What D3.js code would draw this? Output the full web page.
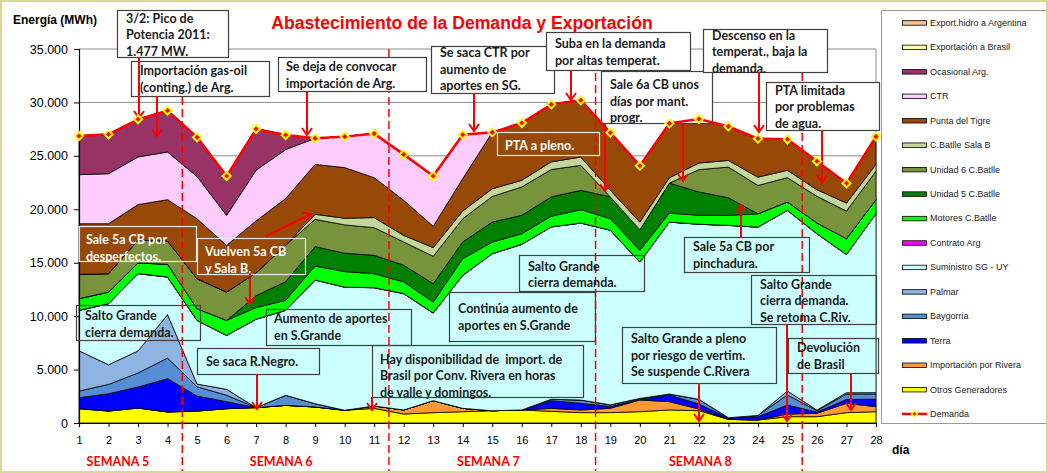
<!DOCTYPE html>
<html>
<head>
<meta charset="utf-8">
<script src="https://cdn.jsdelivr.net/npm/d3@7"></script>
<style>
  body { margin: 0; background: #fff; }
  svg { display: block; }
</style>
</head>
<body>
<script>
// ---- data (MWh per day) ----
const days = [1, 2, 3, 4, 5, 6, 7, 8, 9, 10, 11, 12, 13, 14, 15, 16, 17, 18, 19, 20, 21, 22, 23, 24, 25, 26, 27, 28];

const otros      = [1340, 1120, 1400, 1030, 1120, 1340, 1440, 1650, 1500, 1190, 1370, 840, 970, 1060, 1150, 1220, 1090, 970, 970, 1060, 1220, 1150, 340, 280, 590, 590, 970, 1060];
const rivera     = [0, 0, 0, 0, 0, 0, 0, 0, 0, 0, 220, 380, 1120, 310, 0, 0, 280, 250, 410, 1090, 780, 160, 0, 0, 250, 310, 870, 470];
const terra      = [1030, 1620, 1970, 3120, 1400, 660, 0, 0, 0, 0, 0, 0, 0, 0, 0, 0, 720, 620, 160, 60, 620, 470, 120, 310, 840, 120, 370, 690];
const baygorria  = [620, 870, 1310, 1930, 870, 600, 0, 940, 310, 0, 0, 0, 0, 0, 0, 0, 130, 310, 160, 90, 90, 440, 30, 120, 940, 130, 500, 500];
const palmar     = [3760, 1840, 2060, 4060, 250, 550, 0, 0, 0, 0, 0, 0, 0, 0, 0, 0, 0, 0, 0, 0, 0, 0, 0, 0, 370, 60, 120, 120];
const suministro = [3790, 5710, 7240, 3520, 5960, 5050, 8270, 7950, 11570, 11520, 11070, 10890, 8200, 12450, 14690, 15500, 16130, 16560, 16340, 12760, 16090, 16380, 18000, 17620, 16910, 16500, 12940, 16750];
const contrato   = [0, 0, 0, 0, 0, 0, 0, 0, 0, 0, 0, 0, 0, 0, 0, 0, 0, 0, 0, 0, 0, 0, 0, 0, 0, 0, 0, 0];
const motores    = [1090, 1090, 1000, 1190, 1090, 1400, 1100, 940, 1310, 1460, 1310, 1090, 1030, 1560, 1090, 1000, 1000, 1250, 1090, 1090, 840, 840, 940, 1250, 780, 1000, 1470, 1310];
const unidad5    = [0, 0, 0, 0, 0, 0, 1100, 1750, 1810, 1720, 1720, 1560, 1720, 1560, 1870, 1720, 1810, 1810, 2030, 1930, 2810, 2180, 1650, 0, 0, 0, 0, 0];
const unidad6    = [2280, 1720, 2120, 2180, 2810, 2650, 2140, 3400, 2560, 2650, 2590, 2180, 2560, 2180, 2400, 2650, 2560, 2340, 0, 0, 0, 2090, 2870, 2650, 2280, 2500, 2590, 2680];
const salaB      = [0, 0, 0, 0, 0, 0, 0, 0, 470, 620, 940, 620, 810, 720, 720, 620, 720, 780, 620, 720, 500, 620, 620, 780, 690, 620, 750, 620];
const pta        = [4740, 4680, 3340, 3870, 5610, 4370, 4870, 4370, 4670, 4740, 3740, 3280, 2000, 3030, 5270, 5360, 5400, 5310, 5400, 5270, 5080, 4120, 3180, 3590, 2910, 2660, 1850, 2600];
const ctr        = [4590, 4680, 4460, 4460, 3960, 2810, 4740, 4590, 2440, 2910, 4120, 4310, 4710, 4120, 0, 0, 0, 0, 0, 0, 0, 0, 0, 0, 0, 0, 0, 0];
const ocasional  = [3620, 3690, 3530, 3870, 3650, 3680, 3870, 1370, 0, 0, 0, 0, 0, 0, 0, 0, 0, 0, 0, 0, 0, 0, 0, 0, 0, 0, 0, 0];
const expBrasil  = [0, 0, 0, 0, 0, 0, 0, 0, 0, 0, 0, 0, 0, 0, 0, 0, 0, 0, 0, 0, 0, 0, 0, 0, 0, 0, 0, 0];
const expArg     = [0, 0, 0, 0, 0, 0, 0, 0, 0, 0, 0, 0, 0, 0, 0, 0, 0, 0, 0, 0, 0, 0, 0, 0, 0, 0, 0, 0];
const demanda    = [26860, 27020, 28420, 29230, 26730, 23110, 27510, 26950, 26640, 26800, 27080, 25140, 23110, 26980, 27200, 28070, 29820, 30200, 27170, 24080, 28040, 28450, 27760, 26610, 26550, 24490, 22430, 26800];

const yTicks = [0, 5000, 10000, 15000, 20000, 25000, 30000, 35000];
const weekLabels = ['SEMANA 5', 'SEMANA 6', 'SEMANA 7', 'SEMANA 8'];
const weekCenters = [2.32, 7.85, 14.87, 22.05];
const weekBreaks = [4.5, 11.5, 18.5, 25.5];

// stacking order, bottom first
const series = [
    { key: 'otros',      label: 'Otros Generadores',        color: '#FFFF00', values: otros },
    { key: 'rivera',     label: 'Importación por Rivera',   color: '#FF9933', values: rivera },
    { key: 'terra',      label: 'Terra',                    color: '#0000FF', values: terra },
    { key: 'baygorria',  label: 'Baygorria',                color: '#558ED5', values: baygorria },
    { key: 'palmar',     label: 'Palmar',                   color: '#8DB4E2', values: palmar },
    { key: 'suministro', label: 'Suministro SG - UY',       color: '#CCFFFF', values: suministro },
    { key: 'contrato',   label: 'Contrato Arg',             color: '#FF00FF', values: contrato },
    { key: 'motores',    label: 'Motores C.Batlle',         color: '#00FF00', values: motores },
    { key: 'unidad5',    label: 'Unidad 5 C.Batlle',        color: '#008000', values: unidad5 },
    { key: 'unidad6',    label: 'Unidad 6 C.Batlle',        color: '#77933C', values: unidad6 },
    { key: 'salaB',      label: 'C.Batlle Sala B',          color: '#C4D79B', values: salaB },
    { key: 'pta',        label: 'Punta del Tigre',          color: '#984807', values: pta },
    { key: 'ctr',        label: 'CTR',                      color: '#FFCCFF', values: ctr },
    { key: 'ocasional',  label: 'Ocasional Arg.',           color: '#993366', values: ocasional },
    { key: 'expBrasil',  label: 'Exportación a Brasil',     color: '#FFFF99', values: expBrasil },
    { key: 'expArg',     label: 'Export.hidro a Argentina', color: '#FABF8F', values: expArg }
];

// ---- annotation layout (pixels) ----
const notes = [
    { box: [117, 10, 111, 47], tx: 126, ty: 22.5, fill: '#fff', lines: ['3/2: Pico de', 'Potencia 2011:', '1.477 MW.'] },
    { box: [131, 61, 138, 35], tx: 140, ty: 75, fill: '#fff', lines: ['Importación gas-oil', '(conting.) de Arg.'] },
    { box: [278, 57, 148, 34], tx: 286, ty: 71, fill: '#fff', lines: ['Se deja de convocar', 'importación de Arg.'] },
    { box: [431, 46, 123, 47], tx: 440, ty: 57, fill: '#fff', lines: ['Se saca CTR por', 'aumento de', 'aportes en SG.'] },
    { box: [546, 32, 144, 38], tx: 555, ty: 48, fill: '#fff', lines: ['Suba en la demanda', 'por altas temperat.'] },
    { box: [497, 132, 102, 23], tx: 505, ty: 149.5, fill: 'none', stroke: '#e8e8e8', color: '#fff', lines: ['PTA a pleno.'] },
    { box: [601, 71, 111, 52], tx: 610, ty: 89, fill: '#fff', lines: ['Sale 6a CB unos', 'días por mant.', 'progr.'] },
    { box: [703, 29, 124, 43], tx: 712, ty: 39.5, fill: '#fff', lines: ['Descenso en la', 'temperat., baja la', 'demanda.'] },
    { box: [766, 82, 113, 48], tx: 775, ty: 94.5, fill: '#fff', lines: ['PTA limitada', 'por problemas', 'de agua.'] },
    { box: [79, 226, 117, 35], tx: 86, ty: 244, fill: 'none', stroke: '#e8e8e8', color: '#fff', lines: ['Sale 5a CB por', 'desperfectos.'] },
    { box: [197, 238, 108, 36], tx: 205, ty: 256, fill: 'none', stroke: '#e8e8e8', color: '#fff', lines: ['Vuelven 5a CB', 'y Sala B.'] },
    { box: [76, 305, 124, 35], tx: 85, ty: 320, fill: 'none', lines: ['Salto Grande', 'cierra demanda.'] },
    { box: [266, 309, 145, 36], tx: 274, ty: 323, fill: 'none', lines: ['Aumento de aportes', 'en S.Grande'] },
    { box: [197, 348, 122, 26], tx: 206, ty: 366, fill: 'none', lines: ['Se saca R.Negro.'] },
    { box: [372, 345, 211, 52], tx: 380, ty: 363.5, fill: 'none', lines: ['Hay disponibilidad de  import. de', 'Brasil por Conv. Rivera en horas', 'de valle y domingos.'] },
    { box: [449, 292, 146, 49], tx: 458, ty: 313, fill: 'none', lines: ['Continúa aumento de', 'aportes en S.Grande'] },
    { box: [519, 255, 125, 36], tx: 528, ty: 270.5, fill: 'none', lines: ['Salto Grande', 'cierra demanda.'] },
    { box: [684, 237, 125, 35], tx: 693, ty: 251, fill: 'none', lines: ['Sale 5a CB por', 'pinchadura.'] },
    { box: [751, 275, 125, 49], tx: 760, ty: 288.5, fill: 'none', lines: ['Salto Grande', 'cierra demanda.', 'Se retoma C.Riv.'] },
    { box: [622, 327, 154, 56], tx: 631, ty: 343, fill: 'none', lines: ['Salto Grande a pleno', 'por riesgo de vertim.', 'Se suspende C.Rivera'] },
    { box: [788, 338, 90, 35], tx: 797, ty: 352, fill: 'none', lines: ['Devolución', 'de Brasil'] }
];

const arrows = [
    [139, 57, 139, 118], [157, 96, 157, 136], [307, 91, 307, 135], [474, 93, 474, 131],
    [571, 70, 571, 100], [605, 123, 605, 191], [683, 123, 683, 181], [759, 72, 759, 132],
    [822, 130, 822, 182], [250, 274, 250, 304], [265, 237, 311, 214], [257, 374, 257, 409],
    [372, 397, 372, 410], [741, 237, 741, 205], [787, 324, 787, 421], [699, 383, 699, 421],
    [851, 373, 851, 410]
];

// ---- chart ----
const width = 1048, height = 473;
const plot = { left: 79, right: 876, top: 49, bottom: 423 };

const svg = d3.select('body').append('svg')
    .attr('width', width)
    .attr('height', height);

svg.append('rect')
    .attr('width', width)
    .attr('height', height)
    .attr('fill', '#fff');

const defs = svg.append('defs');
defs.append('marker')
    .attr('id', 'arrow')
    .attr('viewBox', '-9 -7 11 14')
    .attr('markerUnits', 'userSpaceOnUse')
    .attr('markerWidth', 11)
    .attr('markerHeight', 14)
    .attr('refX', 0)
    .attr('refY', 0)
    .attr('orient', 'auto')
    .append('path')
    .attr('d', 'M-7,-5L0,0L-7,5')
    .attr('fill', 'none')
    .attr('stroke', '#FF0000')
    .attr('stroke-width', 2);

const x = d3.scaleLinear().domain([1, 28]).range([plot.left, plot.right]);
const y = d3.scaleLinear().domain([0, 35000]).range([plot.bottom, plot.top]);

const fmt = d3.formatLocale({ decimal: ',', thousands: '.', grouping: [3], currency: ['', ''] }).format(',');

// grid lines
svg.append('g')
    .selectAll('line')
    .data(yTicks.filter(d => d > 0))
    .join('line')
    .attr('x1', plot.left)
    .attr('x2', plot.right)
    .attr('y1', d => y(d))
    .attr('y2', d => y(d))
    .attr('stroke', '#8c8c8c')
    .attr('stroke-width', 1);

svg.append('line')
    .attr('x1', plot.right).attr('x2', plot.right)
    .attr('y1', plot.top).attr('y2', plot.bottom)
    .attr('stroke', '#8c8c8c');

// stacked areas
const rows = days.map((d, i) => {
    const r = { day: d };
    series.forEach(s => { r[s.key] = s.values[i]; });
    return r;
});
const stacked = d3.stack().keys(series.map(s => s.key))(rows);

const area = d3.area()
    .x(d => x(d.data.day))
    .y0(d => y(d[0]))
    .y1(d => y(d[1]));

svg.append('g')
    .selectAll('path')
    .data(stacked)
    .join('path')
    .attr('d', area)
    .attr('fill', (d, i) => series[i].color)
    .attr('stroke', '#000')
    .attr('stroke-width', 0.8)
    .attr('stroke-linejoin', 'round');

// axes
const yAxis = d3.axisLeft(y).tickValues(yTicks).tickSize(5).tickFormat(d => fmt(d));
svg.append('g')
    .attr('transform', `translate(${plot.left},0)`)
    .call(yAxis)
    .call(g => g.select('.domain').attr('stroke', '#000').attr('stroke-width', 1.2))
    .call(g => g.selectAll('.tick line').attr('stroke', '#000'))
    .call(g => g.selectAll('.tick text')
        .attr('x', -11)
        .style('font-family', '"Liberation Sans", Arial, sans-serif')
        .style('font-size', '12.5px')
        .attr('fill', '#000'));

const xAxis = d3.axisBottom(x).tickValues(days).tickSize(4).tickFormat(d => d);
svg.append('g')
    .attr('transform', `translate(0,${plot.bottom})`)
    .call(xAxis)
    .call(g => g.select('.domain').attr('stroke', '#000').attr('stroke-width', 1.2))
    .call(g => g.selectAll('.tick line').attr('stroke', '#000'))
    .call(g => g.selectAll('.tick text')
        .attr('y', 13)
        .style('font-family', '"Liberation Sans", Arial, sans-serif')
        .style('font-size', '11px')
        .attr('fill', '#000'));

// week separators
svg.append('g')
    .selectAll('line')
    .data(weekBreaks)
    .join('line')
    .attr('x1', d => x(d)).attr('x2', d => x(d))
    .attr('y1', plot.top).attr('y2', height)
    .attr('stroke', '#FF0000')
    .attr('stroke-width', 1.5)
    .attr('stroke-dasharray', '8,4');

svg.append('g')
    .selectAll('text')
    .data(weekLabels)
    .join('text')
    .attr('x', (d, i) => x(weekCenters[i]))
    .attr('y', 466)
    .attr('text-anchor', 'middle')
    .style('font-family', 'Lato, sans-serif')
    .style('font-weight', 'bold')
    .style('font-size', '12.5px')
    .attr('fill', '#FF0000')
    .text(d => d);

svg.append('text')
    .attr('x', 892).attr('y', 454)
    .style('font-family', '"Liberation Sans", Arial, sans-serif')
    .style('font-weight', 'bold')
    .style('font-size', '12px')
    .text('día');

// notes
const noteG = svg.append('g');
notes.forEach(n => {
    const [bx, by, bw, bh] = n.box;
    noteG.append('rect')
        .attr('x', bx + 0.5).attr('y', by + 0.5)
        .attr('width', bw).attr('height', bh)
        .attr('fill', n.fill)
        .attr('stroke', n.stroke || '#404040')
        .attr('stroke-width', 1.2);
    const t = noteG.append('text')
        .style('font-family', 'Lato, sans-serif')
        .style('font-weight', 'bold')
        .style('font-size', '12.5px')
        .attr('fill', n.color || '#1a1a1a');
    n.lines.forEach((line, i) => {
        t.append('tspan')
            .attr('x', n.tx)
            .attr('y', n.ty + i * 16.6)
            .attr('xml:space', 'preserve')
            .text(line);
    });
});

svg.append('g')
    .selectAll('line')
    .data(arrows)
    .join('line')
    .attr('x1', d => d[0]).attr('y1', d => d[1])
    .attr('x2', d => d[2]).attr('y2', d => d[3])
    .attr('stroke', '#FF0000')
    .attr('stroke-width', 2)
    .attr('marker-end', 'url(#arrow)');

// demand line
const diamond = 'M0,-4L4,0L0,4L-4,0Z';
svg.append('path')
    .datum(demanda)
    .attr('fill', 'none')
    .attr('stroke', '#FF0000')
    .attr('stroke-width', 2.5)
    .attr('d', d3.line().x((d, i) => x(days[i])).y(d => y(d)));

svg.append('g')
    .selectAll('path')
    .data(demanda)
    .join('path')
    .attr('transform', (d, i) => `translate(${x(days[i])},${y(d)})`)
    .attr('d', diamond)
    .attr('fill', '#FF0000')
    .attr('stroke', '#FFFF00')
    .attr('stroke-width', 2);

// titles
svg.append('text')
    .attr('x', 462).attr('y', 29)
    .attr('text-anchor', 'middle')
    .style('font-family', '"Liberation Sans", Arial, sans-serif')
    .style('font-weight', 'bold')
    .style('font-size', '17.6px')
    .attr('fill', '#FF0000')
    .text('Abastecimiento de la Demanda y Exportación');

svg.append('text')
    .attr('x', 13).attr('y', 24)
    .style('font-family', '"Liberation Sans", Arial, sans-serif')
    .style('font-weight', 'bold')
    .style('font-size', '12px')
    .text('Energía (MWh)');

// legend
svg.append('rect')
    .attr('x', 881.5).attr('y', 10.5)
    .attr('width', 165).attr('height', 413)
    .attr('fill', '#fff')
    .attr('stroke', '#9a9a9a');

const legendItems = series.slice().reverse().map(s => ({ label: s.label, color: s.color }))
    .concat([{ label: 'Demanda', color: null }]);

const legend = svg.append('g')
    .selectAll('g')
    .data(legendItems)
    .join('g')
    .attr('transform', (d, i) => `translate(902,${22.7 + i * 24.45})`);

legend.filter(d => d.color)
    .append('rect')
    .attr('x', 0.5).attr('y', -2)
    .attr('width', 24).attr('height', 4.5)
    .attr('fill', d => d.color)
    .attr('stroke', '#000')
    .attr('stroke-width', 0.8);

const demLeg = legend.filter(d => !d.color);
demLeg.append('line')
    .attr('x1', 0).attr('x2', 25)
    .attr('stroke', '#FF0000').attr('stroke-width', 2.5);
demLeg.append('path')
    .attr('transform', 'translate(12.5,0)')
    .attr('d', 'M0,-3L3,0L0,3L-3,0Z')
    .attr('fill', '#FF0000')
    .attr('stroke', '#FFFF00')
    .attr('stroke-width', 1.5);

legend.append('text')
    .attr('x', 28)
    .attr('y', 0)
    .attr('dy', '0.35em')
    .style('font-family', '"Liberation Sans", Arial, sans-serif')
    .style('font-size', '9px')
    .attr('fill', '#222')
    .text(d => d.label);

// outer frame
svg.append('rect')
    .attr('x', 1).attr('y', 1)
    .attr('width', width - 2).attr('height', height - 2)
    .attr('fill', 'none')
    .attr('stroke', '#d8d890')
    .attr('stroke-width', 2);
</script>
</body>
</html>
